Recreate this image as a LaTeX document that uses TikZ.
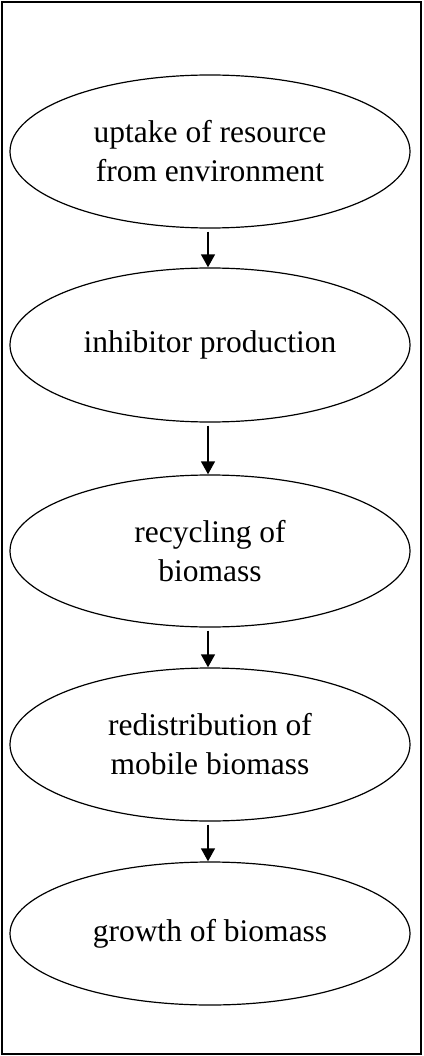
\documentclass[tikz,border=0pt]{standalone}
\usepackage{fontspec}
\setmainfont{Liberation Serif}
\usetikzlibrary{shapes.geometric,arrows.meta}
\begin{document}
\begin{tikzpicture}[x=1pt,y=-1pt,
  stage/.style={draw,ellipse,line width=1.2pt,minimum width=400pt,minimum height=153pt,inner sep=0pt,
    align=center,font=\fontsize{31.5}{39}\selectfont},
  flow/.style={line width=2.7pt,-{Triangle[width=13.5pt,length=13pt]},shorten <=3pt}]
\useasboundingbox (0,0) rectangle (423,1056);
\node[draw,line width=1.6pt,minimum width=419pt,minimum height=1052pt,inner sep=0pt] (frame) at (211.5,528) {};
\node[stage] (e1) at (210,151.5) {uptake of resource\\from environment};
\node[stage,minimum height=154pt] (e2) at (210,345) {inhibitor production};
\node[stage,minimum height=152pt] (e3) at (210,551) {recycling of\\biomass};
\node[stage] (e4) at (210,744.5) {redistribution of\\mobile biomass};
\node[stage,minimum height=143pt] (e5) at (210,933.5) {growth of biomass};
\draw[flow] ([xshift=-2pt]e1.south) -- ([xshift=-2pt]e2.north);
\draw[flow] ([xshift=-2pt]e2.south) -- ([xshift=-2pt]e3.north);
\draw[flow] ([xshift=-2pt]e3.south) -- ([xshift=-2pt]e4.north);
\draw[flow] ([xshift=-2pt]e4.south) -- ([xshift=-2pt]e5.north);
\end{tikzpicture}
\end{document}
